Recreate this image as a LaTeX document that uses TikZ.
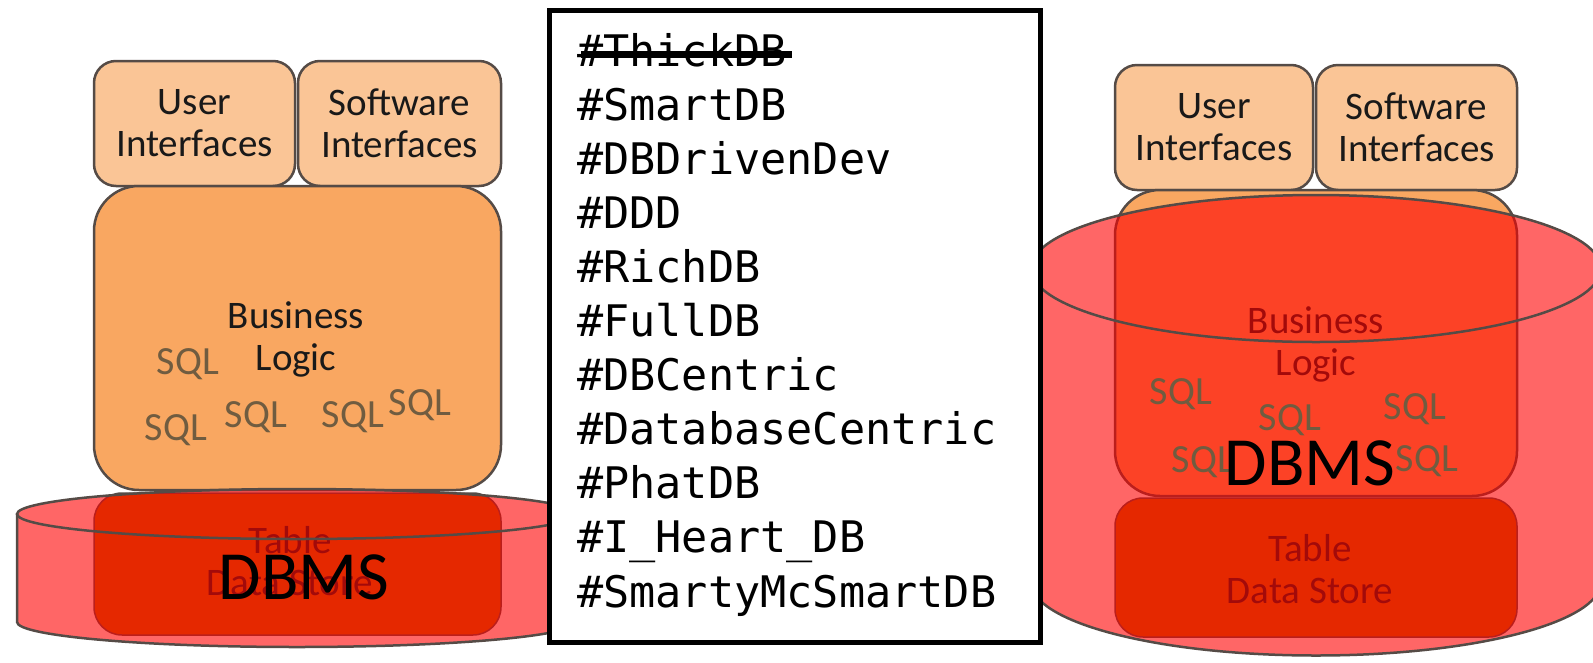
\documentclass[tikz,border=0pt]{standalone}
\usepackage{fontspec}
\setmainfont{Carlito}
\newfontfamily\codefont{DejaVu Sans Mono}
\definecolor{peach}{RGB}{250,197,150}
\definecolor{apricot}{RGB}{249,167,97}
\definecolor{storebase}{RGB}{192,100,0}
\definecolor{rimgray}{RGB}{85,75,70}
\definecolor{sqlgray}{RGB}{112,92,64}
\definecolor{dbred}{RGB}{255,0,0}
\tikzset{
  ifbox/.style={draw=rimgray, line width=2.5pt, fill=peach, rounded corners=22pt,
    inner sep=0pt, align=center, font=\fontsize{39}{42}\selectfont, text=black!90},
  logicbox/.style={draw=rimgray, line width=2.5pt, fill=apricot, rounded corners=45pt, inner sep=0pt},
  storebox/.style={draw=rimgray, line width=1.5pt, fill=storebase, rounded corners=28pt, inner sep=0pt},
  layertext/.style={inner sep=0pt, align=center, font=\fontsize{39}{42}\selectfont, text=black!90},
  sqltext/.style={inner sep=0pt, font=\fontsize{40}{40}\selectfont, text=sqlgray},
  dbmstext/.style={inner sep=0pt, font=\fontsize{69}{69}\selectfont, text=black},
  cylfill/.style={fill=dbred, fill opacity=0.6},
  cylline/.style={draw=rimgray, line width=2.5pt},
  tagline/.style={inner sep=0pt, anchor=base west, font=\codefont\fontsize{43.5}{54}\selectfont, text=black},
}
\begin{document}
\begin{tikzpicture}[x=1pt, y=-1pt]
\useasboundingbox (0,0) rectangle (1593,662);

% ---------- left stack: thin database underneath ----------
\node[ifbox, minimum width=201pt, minimum height=125pt] (lui) at (194.5,123.5) {User\\Interfaces};
\node[ifbox, minimum width=203pt, minimum height=125pt] (lsi) at (399.5,123.5) {Software\\Interfaces};
\node[logicbox, minimum width=407pt, minimum height=304pt] (llogic) at (297.5,338) {};
\node[storebox, minimum width=407pt, minimum height=142pt] (lstore) at (297.5,564) {};
\node[layertext] (lbiz) at (296,339) {Business\\Logic};
\node[layertext] (ltab) at (290,561) {Table\\Data Store};
% cylinder
\fill[cylfill] (17,514) -- (17,622) arc[start angle=180, end angle=360, x radius=280pt, y radius=25pt]
  -- (577,514) arc[start angle=0, end angle=180, x radius=280pt, y radius=25pt] -- cycle;
\draw[cylline] (17,514) -- (17,622) arc[start angle=180, end angle=360, x radius=280pt, y radius=25pt] -- (577,514);
\draw[cylline] (297,514) ellipse [x radius=280pt, y radius=25pt];
\node[sqltext] (lsql1) at (188,364) {SQL};
\node[sqltext] (lsql2) at (176,430) {SQL};
\node[sqltext] (lsql3) at (256,417) {SQL};
\node[sqltext] (lsql4) at (353,417) {SQL};
\node[sqltext] (lsql5) at (420,405) {SQL};
\node[dbmstext] (ldbms) at (304,577) {DBMS};

% ---------- right stack: database wraps the logic ----------
\node[ifbox, minimum width=198pt, minimum height=125pt] (rui) at (1214,127.5) {User\\Interfaces};
\node[ifbox, minimum width=201pt, minimum height=125pt] (rsi) at (1416.5,127.5) {Software\\Interfaces};
\node[logicbox, minimum width=402pt, minimum height=306pt] (rlogic) at (1316,343) {};
\node[storebox, minimum width=402pt, minimum height=139pt] (rstore) at (1316,567.5) {};
\node[layertext] (rbiz) at (1316,344) {Business\\Logic};
\node[layertext] (rtab) at (1310,569) {Table\\Data Store};
% cylinder
\fill[cylfill] (1031,268.5) -- (1031,582) arc[start angle=180, end angle=360, x radius=285pt, y radius=73.5pt]
  -- (1601,268.5) arc[start angle=0, end angle=180, x radius=285pt, y radius=73.5pt] -- cycle;
\draw[cylline] (1031,268.5) -- (1031,582) arc[start angle=180, end angle=360, x radius=285pt, y radius=73.5pt] -- (1601,268.5);
\draw[cylline] (1316,268.5) ellipse [x radius=285pt, y radius=73.5pt];
\node[sqltext] (rsql1) at (1181,394) {SQL};
\node[sqltext] (rsql2) at (1290,420) {SQL};
\node[sqltext] (rsql3) at (1415,409) {SQL};
\node[sqltext] (rsql4) at (1203,462) {SQL};
\node[sqltext] (rsql5) at (1427,461) {SQL};
\node[dbmstext] (rdbms) at (1310,463) {DBMS};

% ---------- list of hashtags ----------
\node[draw=black, line width=5pt, fill=white, minimum width=491pt, minimum height=632pt, inner sep=0pt] (tagbox) at (795,326.5) {};
\node[tagline] (tag1) at (577,66) {\#ThickDB};
\node[tagline] (tag2) at (577,120.1) {\#SmartDB};
\node[tagline] (tag3) at (577,174.2) {\#DBDrivenDev};
\node[tagline] (tag4) at (577,228.3) {\#DDD};
\node[tagline] (tag5) at (577,282.4) {\#RichDB};
\node[tagline] (tag6) at (577,336.5) {\#FullDB};
\node[tagline] (tag7) at (577,390.6) {\#DBCentric};
\node[tagline] (tag8) at (577,444.7) {\#DatabaseCentric};
\node[tagline] (tag9) at (577,498.8) {\#PhatDB};
\node[tagline] (tag10) at (577,552.9) {\#I\_Heart\_DB};
\node[tagline] (tag11) at (577,607) {\#SmartyMcSmartDB};
\coordinate (strikeend) at (792,54.5);
\draw[line width=7pt] (tag1.west |- strikeend) ++(4,0) -- (strikeend);
\end{tikzpicture}
\end{document}
